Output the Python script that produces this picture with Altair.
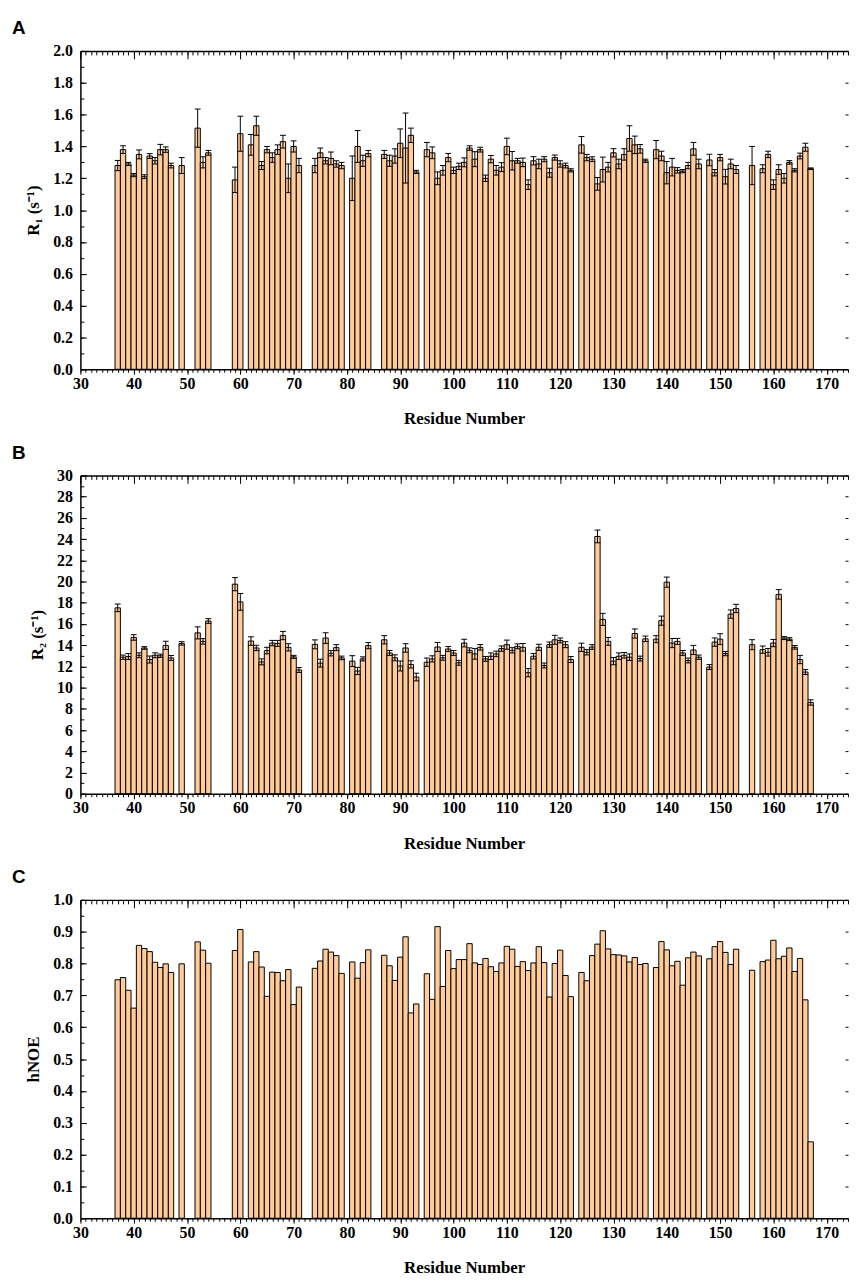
import altair as alt
import pandas as pd

# ---------------- data ----------------
residues = [37, 38, 39, 40, 41, 42, 43, 44, 45, 46, 47,
            49,
            52, 53, 54,
            59, 60,
            62, 63, 64, 65, 66, 67, 68, 69, 70, 71,
            74, 75, 76, 77, 78, 79,
            81, 82, 83, 84,
            87, 88, 89, 90, 91, 92, 93,
            95, 96, 97, 98, 99, 100, 101, 102, 103, 104, 105, 106, 107, 108,
            109, 110, 111, 112, 113, 114, 115, 116, 117, 118, 119, 120, 121, 122,
            124, 125, 126, 127, 128, 129, 130, 131, 132, 133, 134, 135, 136,
            138, 139, 140, 141, 142, 143, 144, 145, 146,
            148, 149, 150, 151, 152, 153,
            156,
            158, 159, 160, 161, 162, 163, 164, 165, 166, 167]

r1 = [1.28, 1.38, 1.29, 1.22, 1.35, 1.21, 1.34, 1.31, 1.38, 1.38, 1.28,
      1.28,
      1.515, 1.30, 1.36,
      1.19, 1.48,
      1.41, 1.53, 1.28, 1.38, 1.33, 1.38, 1.43, 1.20, 1.40, 1.28,
      1.28, 1.36, 1.31, 1.325, 1.29, 1.28,
      1.20, 1.40, 1.31, 1.355,
      1.35, 1.31, 1.34, 1.42, 1.39, 1.47, 1.24,
      1.38, 1.36, 1.20, 1.25, 1.33, 1.25, 1.275, 1.30, 1.39, 1.32, 1.38, 1.20, 1.32, 1.25,
      1.27, 1.40, 1.31, 1.31, 1.30, 1.16, 1.31, 1.29, 1.32, 1.235, 1.33, 1.29, 1.28, 1.25,
      1.41, 1.33, 1.32, 1.165, 1.255, 1.27, 1.36, 1.29, 1.35, 1.45, 1.41, 1.385, 1.31,
      1.38, 1.34, 1.235, 1.27, 1.25, 1.245, 1.28, 1.385, 1.29,
      1.315, 1.235, 1.33, 1.21, 1.29, 1.255,
      1.28,
      1.26, 1.35, 1.16, 1.255, 1.20, 1.30, 1.25, 1.34, 1.395, 1.26]

r1_err = [0.032, 0.024, 0.01, 0.01, 0.028, 0.012, 0.015, 0.02, 0.033, 0.017, 0.015,
          0.05,
          0.12, 0.035, 0.015,
          0.08, 0.11,
          0.065, 0.06, 0.025, 0.02, 0.03, 0.03, 0.04, 0.09, 0.035, 0.045,
          0.045, 0.03, 0.02, 0.04, 0.02, 0.02,
          0.14, 0.10, 0.035, 0.02,
          0.025, 0.035, 0.045, 0.09, 0.22, 0.045, 0.01,
          0.045, 0.037, 0.04, 0.03, 0.026, 0.02, 0.02, 0.028, 0.014, 0.047, 0.015, 0.02, 0.023, 0.03,
          0.028, 0.052, 0.058, 0.015, 0.027, 0.03, 0.026, 0.03, 0.016, 0.028, 0.016, 0.02, 0.015, 0.01,
          0.052, 0.02, 0.015, 0.04, 0.078, 0.03, 0.026, 0.03, 0.036, 0.08, 0.055, 0.027, 0.01,
          0.057, 0.03, 0.07, 0.055, 0.017, 0.01, 0.02, 0.04, 0.03,
          0.036, 0.02, 0.02, 0.046, 0.03, 0.025,
          0.12,
          0.025, 0.02, 0.03, 0.03, 0.03, 0.011, 0.01, 0.018, 0.025, 0.005]

r2 = [17.52, 12.87, 12.93, 14.73, 13.05, 13.74, 12.65, 13.05, 13.0, 13.98, 12.8,
      14.17,
      15.16, 14.36, 16.28,
      19.75, 18.08,
      14.39, 13.74, 12.43, 13.49, 14.2, 14.17, 14.91, 13.8, 12.9, 11.66,
      14.08, 12.31, 14.67, 13.24, 13.77, 12.8,
      12.5, 11.57, 12.71, 13.96,
      14.51, 13.27, 12.81, 12.04, 13.74, 12.19, 11.0,
      12.40, 12.71, 13.83, 12.81, 13.64, 13.27, 12.34, 14.2, 13.52, 13.18, 13.8, 12.71, 12.96, 13.18,
      13.68, 14.05, 13.52, 13.89, 13.8, 11.41, 12.96, 13.8, 12.09, 14.05, 14.51, 14.45, 14.05, 12.65,
      13.8, 13.33, 13.83, 24.25, 16.43, 14.36, 12.5, 12.96, 13.05, 12.87, 15.1, 12.74, 14.6,
      14.57, 16.31, 19.94, 14.2, 14.36, 13.27, 12.56, 13.55, 12.87,
      11.94, 14.29, 14.57, 13.21, 16.93, 17.46,
      14.05,
      13.58, 13.33, 14.2, 18.79, 14.67, 14.57, 13.8, 12.65, 11.47, 8.6]

r2_err = [0.36, 0.2, 0.28, 0.26, 0.23, 0.12, 0.33, 0.23, 0.16, 0.39, 0.23,
          0.16,
          0.57, 0.26, 0.22,
          0.62, 0.79,
          0.4, 0.25, 0.28, 0.31, 0.25, 0.28, 0.39, 0.34, 0.14, 0.23,
          0.42, 0.37, 0.5, 0.25, 0.28, 0.17,
          0.51, 0.34, 0.19, 0.29,
          0.39, 0.23, 0.28, 0.47, 0.4, 0.34, 0.36,
          0.39, 0.29, 0.43, 0.23, 0.23, 0.23, 0.23, 0.36, 0.23, 0.5, 0.26, 0.23, 0.31, 0.26,
          0.25, 0.43, 0.25, 0.23, 0.36, 0.39, 0.26, 0.29, 0.23, 0.25, 0.42, 0.23, 0.28, 0.28,
          0.39, 0.25, 0.22, 0.6, 0.57, 0.37, 0.34, 0.31, 0.26, 0.31, 0.43, 0.23, 0.26,
          0.33, 0.43, 0.48, 0.43, 0.28, 0.23, 0.23, 0.43, 0.2,
          0.23, 0.39, 0.51, 0.2, 0.39, 0.39,
          0.47,
          0.34, 0.36, 0.34, 0.45, 0.14, 0.14, 0.17, 0.39, 0.23, 0.25]

noe = [0.749, 0.756, 0.716, 0.66, 0.857, 0.847, 0.8375, 0.804, 0.7875, 0.799, 0.772,
       0.799,
       0.868, 0.842, 0.801,
       0.841, 0.907,
       0.805, 0.8375, 0.789, 0.697, 0.773, 0.772, 0.746, 0.781, 0.671, 0.726,
       0.785, 0.808, 0.845, 0.836, 0.825, 0.769,
       0.805, 0.754, 0.803, 0.843,
       0.826, 0.793, 0.747, 0.82, 0.884, 0.645, 0.673,
       0.768, 0.6875, 0.916, 0.728, 0.841, 0.784, 0.8125, 0.8125, 0.8625, 0.802, 0.797, 0.816, 0.79, 0.775,
       0.802, 0.854, 0.845, 0.791, 0.806, 0.778, 0.802, 0.853, 0.803, 0.695, 0.80, 0.842, 0.7625, 0.696,
       0.772, 0.746, 0.825, 0.861, 0.903, 0.846, 0.828, 0.827, 0.824, 0.805, 0.819, 0.797, 0.80,
       0.7875, 0.869, 0.843, 0.793, 0.807, 0.732, 0.818, 0.836, 0.824,
       0.815, 0.853, 0.869, 0.835, 0.797, 0.845,
       0.779,
       0.806, 0.811, 0.873, 0.815, 0.823, 0.849, 0.775, 0.816, 0.686, 0.24]

x_major = [30, 40, 50, 60, 70, 80, 90, 100, 110, 120, 130, 140, 150, 160, 170]
x_minor = list(range(30, 175))
r1_major = [round(i * 0.2, 1) for i in range(11)]
r1_minor = [round(i * 0.1, 1) for i in range(21)]
r2_major = list(range(0, 31, 2))
r2_minor = list(range(0, 31))
noe_major = [round(i * 0.1, 1) for i in range(11)]
noe_minor = [round(i * 0.05, 2) for i in range(21)]

df = pd.DataFrame({"res": residues, "r1": r1, "r1e": r1_err,
                   "r2": r2, "r2e": r2_err, "noe": noe})

SERIF = "Liberation Serif"
SANS = "Liberation Sans"
FILL = "#FFCC99"
W, H = 774, 321


def axis(**kw):
    d = dict(grid=False, domain=False, ticks=True, labels=False, title=None,
             tickColor="black", tickWidth=1, domainColor="black", domainWidth=1.5,
             minExtent=0, zindex=1, labelFlush=False, labelOverlap=False)
    d.update(kw)
    return alt.Axis(**d)


def panel(letter, col, err, ydomain, ymajor, yminor, yfmt, ytitle):
    xs = alt.Scale(domain=[30, 174], nice=False, zero=False, padding=0)
    ys = alt.Scale(domain=ydomain, nice=False, zero=False, padding=0)
    base = alt.Chart(df).transform_calculate(
        x0="datum.res - 0.5", x1="datum.res + 0.5")

    bars = base.mark_bar(fill=FILL, stroke="black", strokeWidth=1).encode(
        x=alt.X("x0:Q", scale=xs, axis=axis(
            orient="bottom", values=x_major, domain=True, tickSize=5,
            labels=True, labelFont=SERIF, labelFontSize=16, labelFontWeight="bold",
            labelColor="black", labelPadding=1,
            title="Residue Number", titleFont=SERIF, titleFontSize=17,
            titleFontWeight="bold", titleColor="black", titlePadding=20)),
        x2="x1:Q",
        y=alt.Y(f"{col}:Q", scale=ys, axis=axis(
            orient="left", values=ymajor, domain=True, ticks=False, tickSize=0,
            labels=True, format=yfmt, labelFont=SERIF, labelFontSize=16,
            labelFontWeight="bold", labelColor="black", labelPadding=8,
            title=ytitle, titleFont=SERIF, titleFontSize=17, titleFontWeight="bold",
            titleColor="black", titlePadding=10)),
        y2=alt.datum(0),
    )
    layers = [bars]

    if err is not None:
        eb = base.transform_calculate(
            lo=f"datum.{col} - datum.{err}", hi=f"datum.{col} + datum.{err}",
            c0="datum.res - 0.55", c1="datum.res + 0.55")
        stem = eb.mark_rule(color="black", strokeWidth=1).encode(
            x=alt.X("res:Q", scale=xs, axis=None),
            y=alt.Y("lo:Q", scale=ys, axis=None), y2="hi:Q")
        cap_hi = eb.mark_rule(color="black", strokeWidth=1).encode(
            x=alt.X("c0:Q", scale=xs, axis=None), x2="c1:Q",
            y=alt.Y("hi:Q", scale=ys, axis=None))
        cap_lo = eb.mark_rule(color="black", strokeWidth=1).encode(
            x=alt.X("c0:Q", scale=xs, axis=None), x2="c1:Q",
            y=alt.Y("lo:Q", scale=ys, axis=None))
        layers += [stem, cap_lo, cap_hi]

    def ghost(xaxis, yaxis):
        return base.mark_point(opacity=0).encode(
            x=alt.X("res:Q", scale=xs, axis=xaxis),
            y=alt.Y(f"{col}:Q", scale=ys, axis=yaxis))

    layers += [
        ghost(axis(orient="bottom", values=x_minor, tickSize=3),
              axis(orient="left", values=ymajor, offset=-6, tickSize=6)),
        ghost(axis(orient="top", values=x_major, offset=-8, tickSize=8),
              axis(orient="left", values=yminor, offset=-3.5, tickSize=3.5)),
        ghost(axis(orient="top", values=x_minor, offset=-4, tickSize=4),
              axis(orient="right", values=ymajor, offset=-3, tickSize=3)),
        ghost(axis(orient="top", domain=True, ticks=False, tickSize=0), None),
    ]

    return alt.layer(*layers).resolve_axis(x="independent", y="independent").properties(
        width=W, height=H,
        title=alt.TitleParams(letter, anchor="start", frame="group", dx=-69,
                              font=SANS, fontSize=19, fontWeight="bold",
                              color="black", offset=5))


pA = panel("A", "r1", "r1e", [0, 2], r1_major, r1_minor, ".1f", "R₁ (s⁻¹)")
pB = panel("B", "r2", "r2e", [0, 30], r2_major, r2_minor, "d", "R₂ (s⁻¹)")
pC = panel("C", "noe", None, [0, 1], noe_major, noe_minor, ".1f", "hNOE")

chart = alt.vconcat(pA, pB, pC, spacing=17).properties(
    padding={"left": 4, "top": 6, "right": 0, "bottom": 0},
    background="white",
).configure_view(stroke=None)

chart.save("out.html", embed_options={"renderer": "svg", "actions": False})
